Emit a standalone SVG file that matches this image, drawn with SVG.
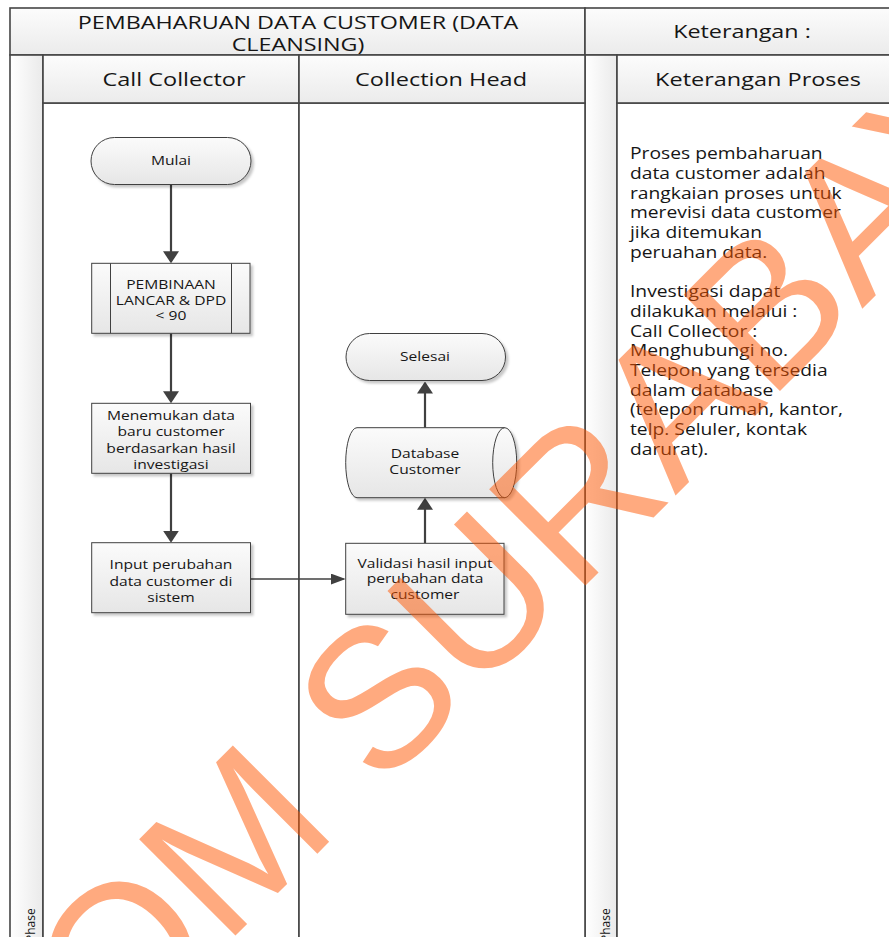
<svg xmlns="http://www.w3.org/2000/svg" width="889" height="937" viewBox="0 0 889 937">
  <defs>
    <linearGradient id="hdrFill" x1="0" y1="0" x2="0" y2="1">
      <stop offset="0" stop-color="#fcfcfc"/>
      <stop offset="1" stop-color="#ebebeb"/>
    </linearGradient>
    <linearGradient id="stripFill" x1="0" y1="0" x2="1" y2="0">
      <stop offset="0" stop-color="#ffffff"/>
      <stop offset="1" stop-color="#eaeaea"/>
    </linearGradient>
    <linearGradient id="nodeFill" x1="0" y1="0" x2="0" y2="1">
      <stop offset="0" stop-color="#fbfbfb"/>
      <stop offset="1" stop-color="#e6e6e6"/>
    </linearGradient>
    <filter id="shadow" x="-10%" y="-10%" width="130%" height="140%">
      <feDropShadow dx="2.5" dy="2.5" stdDeviation="0.8" flood-color="#000" flood-opacity="0.22"/>
    </filter>
    <marker id="headV" viewBox="0 0 12 16" refX="10" refY="8" markerWidth="12" markerHeight="16" markerUnits="userSpaceOnUse" orient="auto">
      <path d="M0,0 L12,8 L0,16 z" fill="#404040"/>
    </marker>
    <marker id="headH" viewBox="0 0 15 11" refX="13" refY="5.5" markerWidth="15" markerHeight="11" markerUnits="userSpaceOnUse" orient="auto">
      <path d="M0,0 L15,5.5 L0,11 z" fill="#404040"/>
    </marker>
  </defs>
  <style>
    .hdr{fill:url(#hdrFill);stroke:#454545;stroke-width:1.6}
    .strip{fill:url(#stripFill);stroke:#454545;stroke-width:1.6}
    .lane{fill:#ffffff;stroke:#454545;stroke-width:1.6}
    .shape{fill:url(#nodeFill);stroke:#404040;stroke-width:1;filter:url(#shadow)}
    .edge{fill:none;stroke:#404040;stroke-width:1}
    .conn{fill:none;stroke:#404040;stroke-width:2.2}
    .connThin{fill:none;stroke:#404040;stroke-width:1.3}
    text{font-family:"Open Sans","DejaVu Sans",sans-serif;fill:#161616}
    .hd{font-size:17.4px;text-anchor:middle}
    .lbl{font-size:13px;text-anchor:middle}
    .note{font-size:15.4px}
    .phase{font-size:12px}
    .wm{font-family:"Liberation Sans",Arial,sans-serif;font-size:198px;fill:#ff5500;fill-opacity:0.5}
  </style>

  <!-- pool frame, lanes and headers -->
  <g id="pool">
    <rect class="hdr" x="10" y="8" width="575" height="47"/>
    <rect class="hdr" x="585" y="8" width="330" height="47"/>
    <rect class="strip" x="10" y="55" width="33" height="900"/>
    <rect class="strip" x="585" y="55" width="32" height="900"/>
    <rect class="lane" x="43" y="103" width="256" height="850"/>
    <rect class="lane" x="299" y="103" width="286" height="850"/>
    <rect class="lane" x="617" y="103" width="300" height="850"/>
    <rect class="hdr" x="43" y="55" width="256" height="48"/>
    <rect class="hdr" x="299" y="55" width="286" height="48"/>
    <rect class="hdr" x="617" y="55" width="300" height="48"/>
    <text class="hd" transform="translate(298 0) scale(1.34 1)"><tspan x="0" y="29">PEMBAHARUAN DATA CUSTOMER (DATA</tspan><tspan x="0" y="51.5">CLEANSING)</tspan></text>
    <text class="hd" transform="translate(742 0) scale(1.34 1)" x="0" y="38.5">Keterangan :</text>
    <text class="hd" transform="translate(174 0) scale(1.35 1)" x="0" y="86">Call Collector</text>
    <text class="hd" transform="translate(441 0) scale(1.35 1)" x="0" y="86">Collection Head</text>
    <text class="hd" transform="translate(758 0) scale(1.35 1)" x="0" y="86">Keterangan Proses</text>
    <text class="phase" transform="rotate(-90 35 942)" x="35" y="942">Phase</text>
    <text class="phase" transform="rotate(-90 610 942)" x="610" y="942">Phase</text>
  </g>

  <!-- process notes -->
  <g id="notes">
    <text class="note" transform="translate(630 0) scale(1.25 1)">
      <tspan x="0" y="159.3">Proses pembaharuan</tspan>
      <tspan x="0" y="179">data customer adalah</tspan>
      <tspan x="0" y="198.7">rangkaian proses untuk</tspan>
      <tspan x="0" y="218.4">merevisi data customer</tspan>
      <tspan x="0" y="238.1">jika ditemukan</tspan>
      <tspan x="0" y="257.8">peruahan data.</tspan>
      <tspan x="0" y="297.2">Investigasi dapat</tspan>
      <tspan x="0" y="316.9">dilakukan melalui :</tspan>
      <tspan x="0" y="336.6">Call Collector :</tspan>
      <tspan x="0" y="356.3">Menghubungi no.</tspan>
      <tspan x="0" y="376">Telepon yang tersedia</tspan>
      <tspan x="0" y="395.7">dalam database</tspan>
      <tspan x="0" y="415.4">(telepon rumah, kantor,</tspan>
      <tspan x="0" y="435.1">telp. Seluler, kontak</tspan>
      <tspan x="0" y="454.8">darurat).</tspan>
    </text>
  </g>

  <!-- connectors -->
  <g id="connectors">
    <path class="conn" d="M171,184.5 V261.3" marker-end="url(#headV)"/>
    <path class="conn" d="M171,333.3 V401.3" marker-end="url(#headV)"/>
    <path class="conn" d="M171,473.3 V540.7" marker-end="url(#headV)"/>
    <path class="connThin" d="M250.5,579 H343.7" marker-end="url(#headH)"/>
    <path class="conn" d="M425,543.3 V499.7" marker-end="url(#headV)"/>
    <path class="conn" d="M425,427.7 V383.5" marker-end="url(#headV)"/>
  </g>

  <!-- flow nodes -->
  <g id="mulai">
    <rect class="shape" x="91" y="137.5" width="160" height="47" rx="23.5"/>
    <text class="lbl" transform="translate(171 0) scale(1.2 1)" x="0" y="165.3">Mulai</text>
  </g>
  <g id="pembinaan">
    <rect class="shape" x="91.7" y="263.3" width="158.3" height="70"/>
    <path class="edge" d="M110.5,263.3 V333.3 M231.5,263.3 V333.3"/>
    <text class="lbl" transform="translate(171 0) scale(1.2 1)"><tspan x="0" y="289.3">PEMBINAAN</tspan><tspan x="0" y="305">LANCAR &amp; DPD</tspan><tspan x="0" y="320.5">&lt; 90</tspan></text>
  </g>
  <g id="menemukan">
    <rect class="shape" x="91.7" y="403.3" width="158.8" height="70"/>
    <text class="lbl" transform="translate(171 0) scale(1.2 1)"><tspan x="0" y="420">Menemukan data</tspan><tspan x="0" y="436.4">baru customer</tspan><tspan x="0" y="452.7">berdasarkan hasil</tspan><tspan x="0" y="469">investigasi</tspan></text>
  </g>
  <g id="input">
    <rect class="shape" x="91.7" y="542.7" width="158.8" height="70"/>
    <text class="lbl" transform="translate(171 0) scale(1.2 1)"><tspan x="0" y="569.3">Input perubahan</tspan><tspan x="0" y="585.6">data customer di</tspan><tspan x="0" y="601.9">sistem</tspan></text>
  </g>
  <g id="validasi">
    <rect class="shape" x="345.7" y="543.3" width="158.3" height="71"/>
    <text class="lbl" transform="translate(425 0) scale(1.2 1)"><tspan x="0" y="567.7">Validasi hasil input</tspan><tspan x="0" y="583.5">perubahan data</tspan><tspan x="0" y="599.3">customer</tspan></text>
  </g>
  <g id="database">
    <path class="shape" d="M357,427.7 H504.7 A12,35 0 0 1 504.7,497.7 H357 A11.3,35 0 0 1 357,427.7 Z"/>
    <path class="edge" d="M504.7,427.7 A12,35 0 0 0 504.7,497.7"/>
    <text class="lbl" transform="translate(425 0) scale(1.2 1)"><tspan x="0" y="458.3">Database</tspan><tspan x="0" y="474.3">Customer</tspan></text>
  </g>
  <g id="selesai">
    <rect class="shape" x="346" y="333.5" width="159.5" height="47" rx="23.5"/>
    <text class="lbl" transform="translate(425 0) scale(1.2 1)" x="0" y="361.5">Selesai</text>
  </g>

  <!-- watermark -->
  <g id="watermark">
    <text class="wm" transform="rotate(-45 -196 1367)" x="-196" y="1367">STIKOM SURABAYA</text>
  </g>
</svg>
